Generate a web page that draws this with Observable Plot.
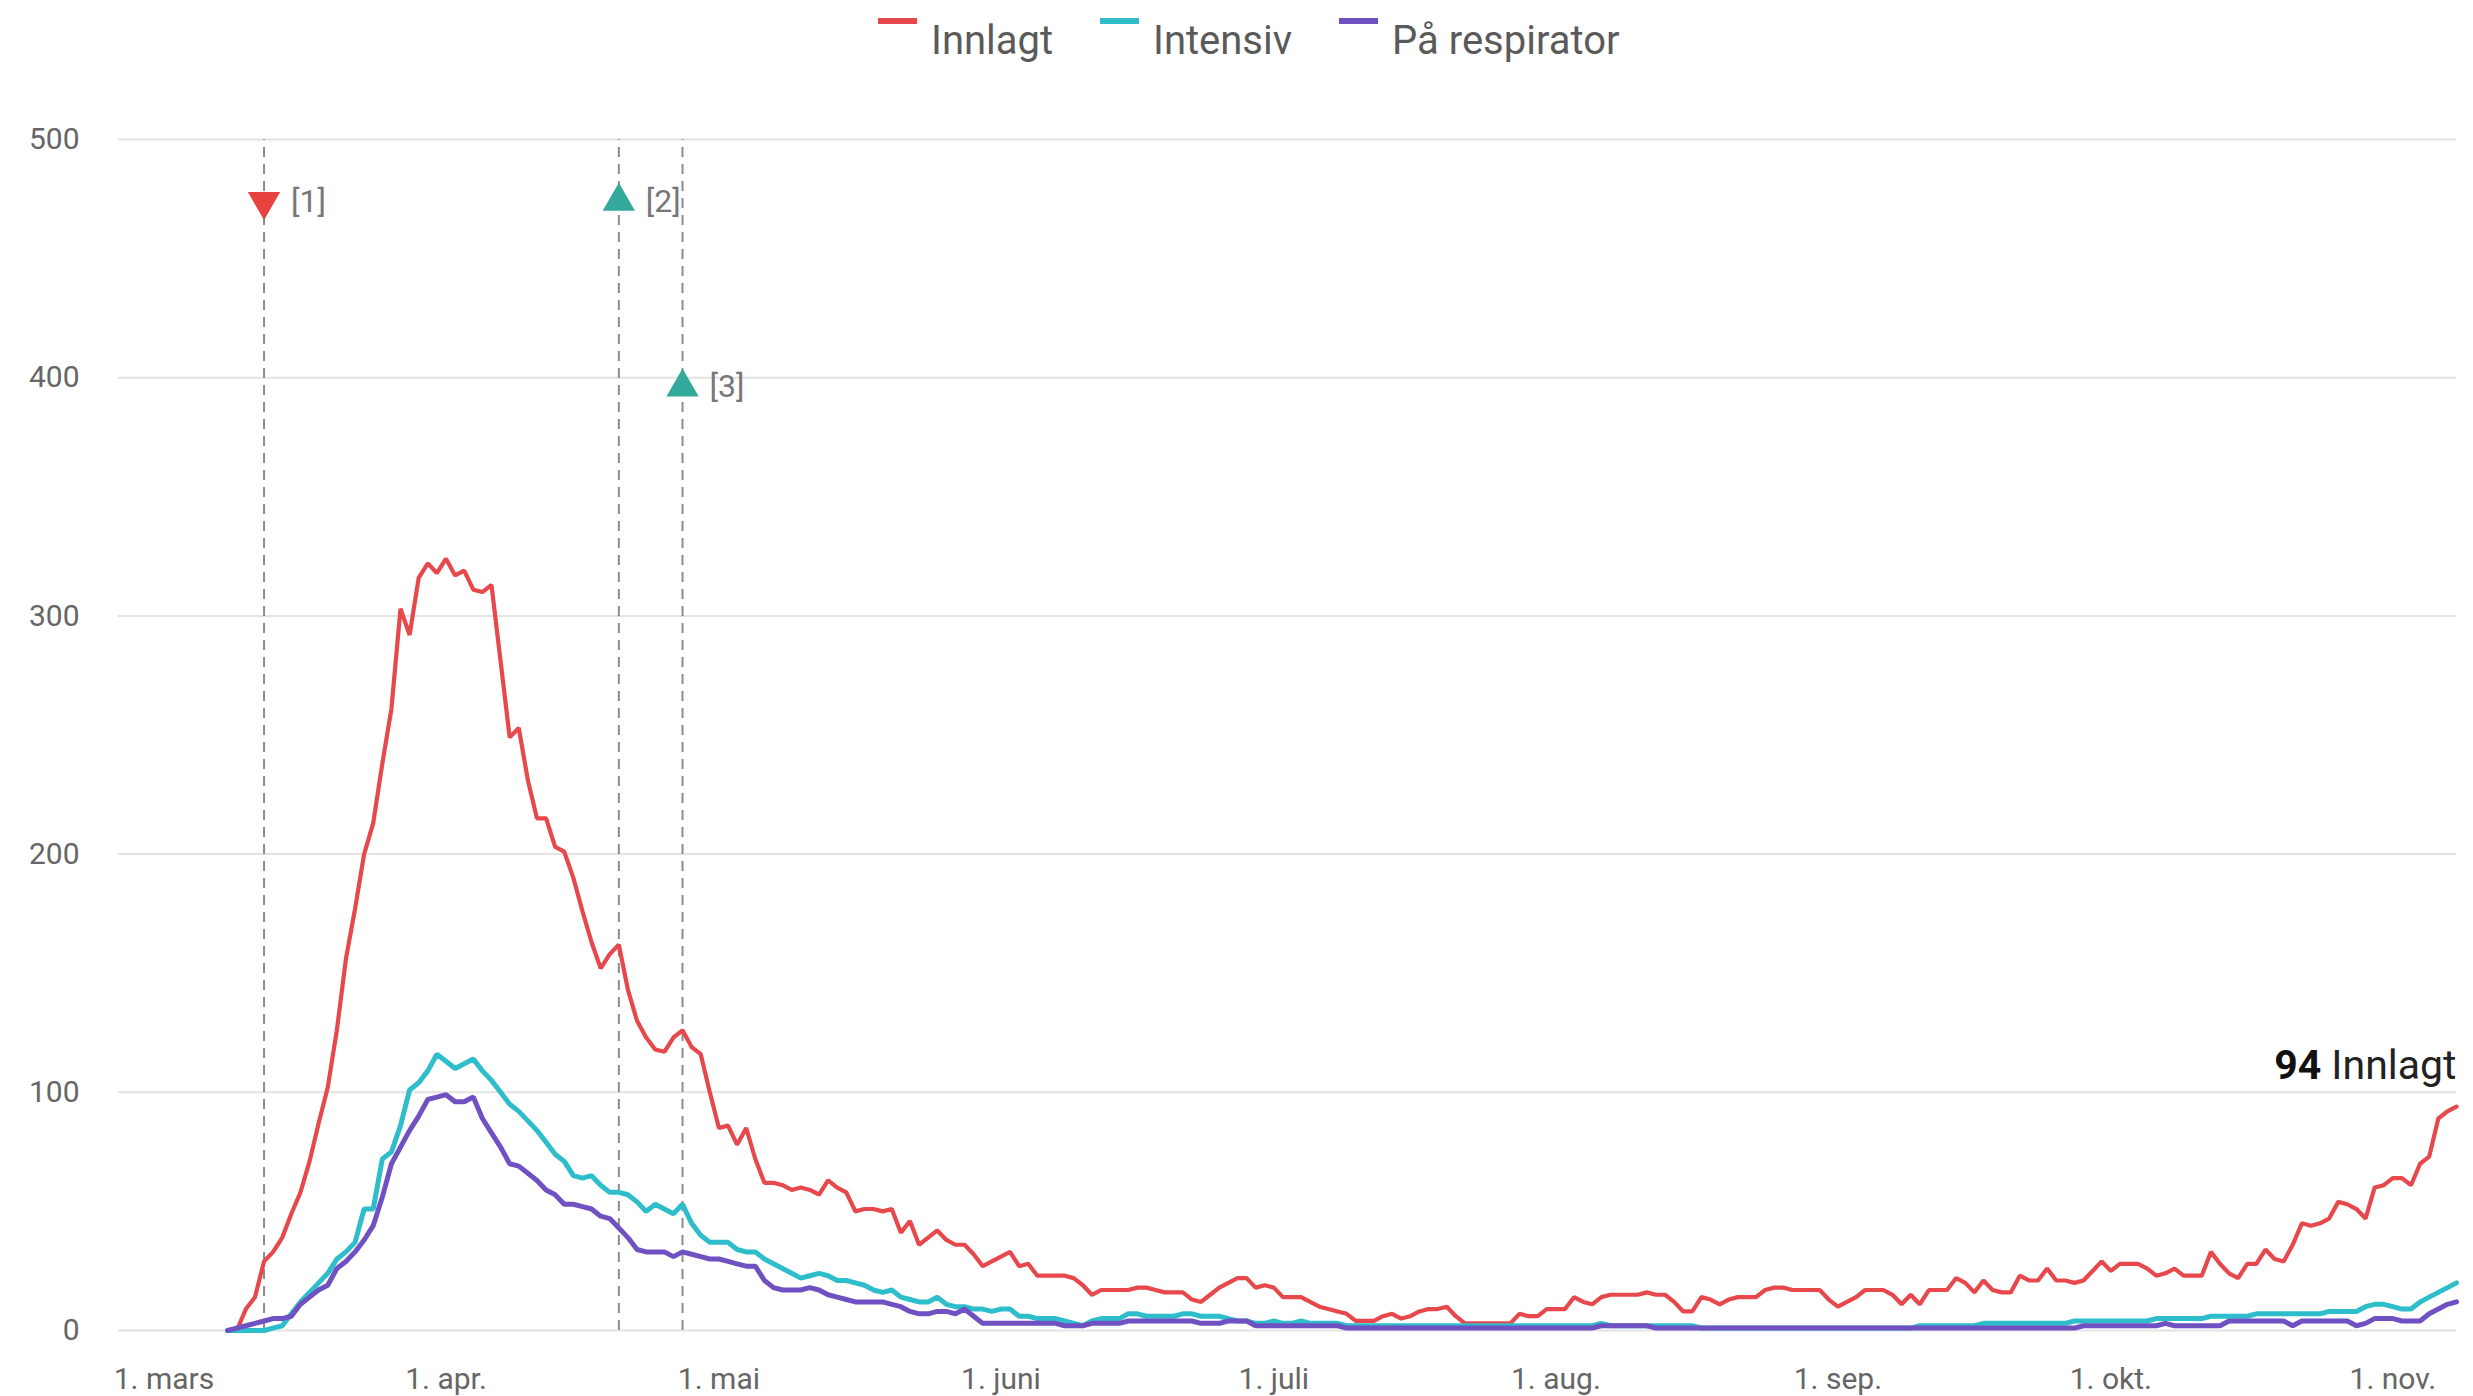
<!DOCTYPE html>
<html>
<head>
<meta charset="utf-8">
<script src="https://cdn.jsdelivr.net/npm/d3@7"></script>
<script src="https://cdn.jsdelivr.net/npm/@observablehq/plot@0.6"></script>
<style>
  html, body { margin: 0; padding: 0; background: #fff; }
  body { width: 2473px; height: 1396px; overflow: hidden; font-family: Roboto, "Noto Sans", sans-serif; }
  #legend { position: relative; width: 2473px; height: 70px; }
  .sw { position: absolute; top: 18px; width: 39px; height: 6px; }
  .lt { position: absolute; top: 21px; font-size: 40px; line-height: 40px; color: #5a5a5a; white-space: nowrap; }
  #chart svg { display: block; }
</style>
</head>
<body>
<div id="legend"></div>
<div id="chart"></div>
<script>
// ---- data, daily from 8 March 2020 ----
const startDate = "2020-03-08";

const innlagt = [
  0, 0, 9, 14, 29, 33, 39,
  49, 58, 71, 87, 102, 126, 156,
  177, 200, 213, 238, 261, 303, 292,
  316, 322, 318, 324, 317, 319, 311,
  310, 313, 281, 249, 253, 231, 215,
  215, 203, 201, 190, 176, 163, 152,
  158, 162, 143, 130, 123, 118, 117,
  123, 126, 119, 116, 100, 85, 86,
  78, 85, 72, 62, 62, 61, 59,
  60, 59, 57, 63, 60, 58, 50,
  51, 51, 50, 51, 41, 46, 36,
  39, 42, 38, 36, 36, 32, 27,
  29, 31, 33, 27, 28, 23, 23,
  23, 23, 22, 19, 15, 17, 17,
  17, 17, 18, 18, 17, 16, 16,
  16, 13, 12, 15, 18, 20, 22,
  22, 18, 19, 18, 14, 14, 14,
  12, 10, 9, 8, 7, 4, 4,
  4, 6, 7, 5, 6, 8, 9,
  9, 10, 6, 3, 3, 3, 3,
  3, 3, 7, 6, 6, 9, 9,
  9, 14, 12, 11, 14, 15, 15,
  15, 15, 16, 15, 15, 12, 8,
  8, 14, 13, 11, 13, 14, 14,
  14, 17, 18, 18, 17, 17, 17,
  17, 13, 10, 12, 14, 17, 17,
  17, 15, 11, 15, 11, 17, 17,
  17, 22, 20, 16, 21, 17, 16,
  16, 23, 21, 21, 26, 21, 21,
  20, 21, 25, 29, 25, 28, 28,
  28, 26, 23, 24, 26, 23, 23,
  23, 33, 28, 24, 22, 28, 28,
  34, 30, 29, 36, 45, 44, 45,
  47, 54, 53, 51, 47, 60, 61,
  64, 64, 61, 70, 73, 89, 92,
  94
];

const intensiv = [
  0, 0, 0, 0, 0, 1, 2,
  7, 12, 16, 20, 24, 30, 33,
  37, 51, 51, 72, 75, 86, 101,
  104, 109, 116, 113, 110, 112, 114,
  109, 105, 100, 95, 92, 88, 84,
  79, 74, 71, 65, 64, 65, 61,
  58, 58, 57, 54, 50, 53, 51,
  49, 53, 45, 40, 37, 37, 37,
  34, 33, 33, 30, 28, 26, 24,
  22, 23, 24, 23, 21, 21, 20,
  19, 17, 16, 17, 14, 13, 12,
  12, 14, 11, 10, 10, 9, 9,
  8, 9, 9, 6, 6, 5, 5,
  5, 4, 3, 2, 4, 5, 5,
  5, 7, 7, 6, 6, 6, 6,
  7, 7, 6, 6, 6, 5, 4,
  4, 3, 3, 4, 3, 3, 4,
  3, 3, 3, 3, 2, 2, 2,
  2, 2, 2, 2, 2, 2, 2,
  2, 2, 2, 2, 2, 2, 2,
  2, 2, 2, 2, 2, 2, 2,
  2, 2, 2, 2, 3, 2, 2,
  2, 2, 2, 2, 2, 2, 2,
  2, 1, 1, 1, 1, 1, 1,
  1, 1, 1, 1, 1, 1, 1,
  1, 1, 1, 1, 1, 1, 1,
  1, 1, 1, 1, 2, 2, 2,
  2, 2, 2, 2, 3, 3, 3,
  3, 3, 3, 3, 3, 3, 3,
  4, 4, 4, 4, 4, 4, 4,
  4, 4, 5, 5, 5, 5, 5,
  5, 6, 6, 6, 6, 6, 7,
  7, 7, 7, 7, 7, 7, 7,
  8, 8, 8, 8, 10, 11, 11,
  10, 9, 9, 12, 14, 16, 18,
  20
];

const respirator = [
  0, 1, 2, 3, 4, 5, 5,
  6, 11, 14, 17, 19, 26, 29,
  33, 38, 44, 56, 70, 77, 84,
  90, 97, 98, 99, 96, 96, 98,
  89, 83, 77, 70, 69, 66, 63,
  59, 57, 53, 53, 52, 51, 48,
  47, 43, 39, 34, 33, 33, 33,
  31, 33, 32, 31, 30, 30, 29,
  28, 27, 27, 21, 18, 17, 17,
  17, 18, 17, 15, 14, 13, 12,
  12, 12, 12, 11, 10, 8, 7,
  7, 8, 8, 7, 9, 6, 3,
  3, 3, 3, 3, 3, 3, 3,
  3, 2, 2, 2, 3, 3, 3,
  3, 4, 4, 4, 4, 4, 4,
  4, 4, 3, 3, 3, 4, 4,
  4, 2, 2, 2, 2, 2, 2,
  2, 2, 2, 2, 1, 1, 1,
  1, 1, 1, 1, 1, 1, 1,
  1, 1, 1, 1, 1, 1, 1,
  1, 1, 1, 1, 1, 1, 1,
  1, 1, 1, 1, 2, 2, 2,
  2, 2, 2, 1, 1, 1, 1,
  1, 1, 1, 1, 1, 1, 1,
  1, 1, 1, 1, 1, 1, 1,
  1, 1, 1, 1, 1, 1, 1,
  1, 1, 1, 1, 1, 1, 1,
  1, 1, 1, 1, 1, 1, 1,
  1, 1, 1, 1, 1, 1, 1,
  1, 2, 2, 2, 2, 2, 2,
  2, 2, 2, 3, 2, 2, 2,
  2, 2, 2, 4, 4, 4, 4,
  4, 4, 4, 2, 4, 4, 4,
  4, 4, 4, 2, 3, 5, 5,
  5, 4, 4, 4, 7, 9, 11,
  12
];

const seriesNames = ["Innlagt", "Intensiv", "På respirator"];
const seriesColors = ["#e6484b", "#2ebdcb", "#6f51c1"];

const xDomain = ["2020-02-25", "2020-11-08"];
const monthTicks = ["2020-03-01", "2020-04-01", "2020-05-01", "2020-06-01", "2020-07-01",
                    "2020-08-01", "2020-09-01", "2020-10-01", "2020-11-01"];
const monthLabels = ["1. mars", "1. apr.", "1. mai", "1. juni", "1. juli",
                     "1. aug.", "1. sep.", "1. okt.", "1. nov."];
const yTicks = [0, 100, 200, 300, 400, 500];

// tiltak / lettelser markers
const eventDates = ["2020-03-12", "2020-04-20", "2020-04-27"];
const eventLabels = ["[1]", "[2]", "[3]"];
const eventDirections = ["down", "up", "up"];
const eventLevels = [474, 474, 396];
const eventColors = {down: "#e8413e", up: "#33a99c"};

// ---- build tables ----
const start = new Date(startDate + "T00:00:00Z");
const seriesValues = [innlagt, intensiv, respirator];
const tables = seriesValues.map((vals, s) =>
  vals.map((v, i) => ({date: d3.utcDay.offset(start, i), value: v, series: seriesNames[s]}))
);
const events = eventDates.map((d, i) => ({
  date: new Date(d + "T00:00:00Z"), label: eventLabels[i], dir: eventDirections[i], level: eventLevels[i]
}));
const tickDates = monthTicks.map(d => new Date(d + "T00:00:00Z"));
const labelByTime = new Map(tickDates.map((d, i) => [+d, monthLabels[i]]));
const lastRow = tables[0][tables[0].length - 1];

// ---- legend ----
const legendLeft = [878, 1100, 1339];
const legend = document.getElementById("legend");
seriesNames.forEach((name, i) => {
  const sw = document.createElement("div");
  sw.className = "sw";
  sw.style.left = legendLeft[i] + "px";
  sw.style.background = seriesColors[i];
  legend.appendChild(sw);
  const t = document.createElement("div");
  t.className = "lt";
  t.style.left = (legendLeft[i] + 53) + "px";
  t.textContent = name;
  legend.appendChild(t);
});

// ---- chart ----
const chart = Plot.plot({
  width: 2473,
  height: 1326,
  marginTop: 69,
  marginBottom: 66,
  marginLeft: 118,
  marginRight: 17,
  style: {fontFamily: "Roboto, 'Noto Sans', sans-serif", fontSize: "30px", color: "#666", background: "#fff", overflow: "visible"},
  x: {
    type: "utc",
    domain: xDomain.map(d => new Date(d + "T00:00:00Z")),
    ticks: tickDates,
    tickFormat: d => labelByTime.get(+d),
    tickSize: 0,
    tickPadding: 37,
    label: null
  },
  y: {
    domain: [0, 500],
    ticks: yTicks,
    tickSize: 0,
    tickPadding: 39,
    label: null
  },
  marks: [
    Plot.ruleY(yTicks, {stroke: "#e3e3e3", strokeWidth: 2}),
    Plot.ruleX(events, {x: "date", y1: 0, y2: 500, stroke: "#8c8c8c", strokeWidth: 2, strokeDasharray: "10,7"}),
    Plot.line(tables[0], {x: "date", y: "value", stroke: seriesColors[0], strokeWidth: 4.2, strokeLinejoin: "miter"}),
    Plot.line(tables[1], {x: "date", y: "value", stroke: seriesColors[1], strokeWidth: 5, strokeLinejoin: "miter"}),
    Plot.line(tables[2], {x: "date", y: "value", stroke: seriesColors[2], strokeWidth: 5, strokeLinejoin: "miter"}),
    Plot.dot(events.filter(e => e.dir === "down"), {x: "date", y: "level", symbol: "triangle", r: 12, rotate: 180, fill: eventColors.down, stroke: null}),
    Plot.dot(events.filter(e => e.dir === "up"), {x: "date", y: "level", symbol: "triangle", r: 12, fill: eventColors.up, stroke: null}),
    Plot.text(events, {x: "date", y: "level", text: "label", dx: 27, textAnchor: "start", fill: "#777", fontSize: 32}),
    Plot.text([lastRow], {x: "date", y: "value", text: d => `${d.value} ${d.series}`, textAnchor: "end", dy: -41, fontSize: 41, fill: "#222"})
  ]
});
document.getElementById("chart").appendChild(chart);

// bold number in the end label
const endText = `${lastRow.value} ${lastRow.series}`;
chart.querySelectorAll("text").forEach(el => {
  if (el.textContent === endText) {
    el.textContent = "";
    const ns = "http://www.w3.org/2000/svg";
    const a = document.createElementNS(ns, "tspan");
    a.setAttribute("font-weight", "bold");
    a.setAttribute("fill", "#111");
    a.textContent = String(lastRow.value);
    const b = document.createElementNS(ns, "tspan");
    b.textContent = " " + lastRow.series;
    el.appendChild(a);
    el.appendChild(b);
  }
});
// axis label colour
chart.querySelectorAll("[aria-label^='x-axis'] text, [aria-label^='y-axis'] text").forEach(el => el.setAttribute("fill", "#666"));
</script>
</body>
</html>
